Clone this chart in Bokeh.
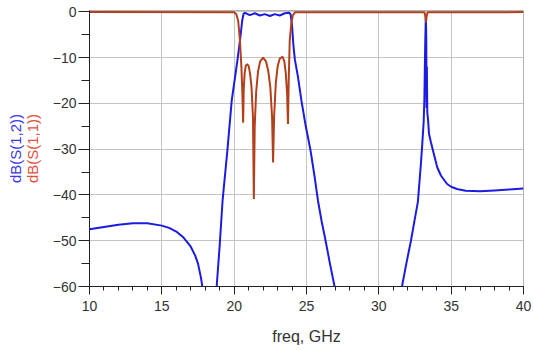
from bokeh.plotting import figure
from bokeh.models import Range1d, FixedTicker, LinearAxis
from bokeh.embed import file_html
from bokeh.resources import INLINE

# ---- data ----
freq_s21 = [10.0, 11.0, 12.0, 13.0, 14.0, 15.0, 15.5, 16.0, 16.5, 17.0, 17.3, 17.5, 17.7, 17.85,
            18.0, 18.3, 18.6, 18.79, 19.0, 19.2, 19.53, 19.83, 20.05, 20.25, 20.45, 20.55, 20.65,
            20.75, 21.08, 21.43, 21.78, 22.12, 22.47, 22.81, 23.15, 23.5, 23.8, 23.9,
            24.0, 24.1, 24.2, 24.4, 24.65, 24.95, 25.28, 25.55, 25.79, 26.05, 26.32, 26.62, 26.94, 27.2,
            28.0, 30.0, 31.3, 31.6, 31.9, 32.22, 32.5, 32.7, 32.9, 33.0, 33.1, 33.15, 33.2, 33.25,
            33.28, 33.3, 33.32, 33.35, 33.4, 33.47, 33.6, 33.8, 34.04, 34.3, 34.72, 35.0, 35.4,
            36.0, 37.0, 38.0, 39.0, 40.0]
s21_db = [-47.5, -47.0, -46.5, -46.2, -46.2, -46.7, -47.2, -48.0, -49.3, -51.3, -53.2, -55.0, -58.0, -61.0,
          -68.0, -80.0, -68.0, -60.0, -51.0, -41.2, -30.3, -19.4, -14.5, -10.0, -5.0, -2.0, -0.4,
          -0.2, -0.7, -0.3, -0.8, -0.5, -0.9, -0.5, -0.8, -0.3, -0.2, -0.5,
          -3.0, -7.5, -10.5, -14.0, -19.4, -25.0, -30.3, -35.8, -41.2, -45.8, -50.0, -55.0, -60.0, -65.0,
          -80.0, -85.0, -66.0, -60.0, -55.0, -50.0, -45.0, -41.5, -33.5, -29.0, -24.0, -19.0, -8.0, -0.8,
          -6.0, -21.0, -12.0, -22.0, -23.5, -26.7, -28.5, -31.0, -34.0, -35.8, -37.6, -38.2, -38.7,
          -39.1, -39.2, -39.0, -38.8, -38.6]

freq_s11 = [10.0, 20.0, 20.15, 20.28, 20.4, 20.5, 20.57, 20.62, 20.66, 20.72, 20.8, 20.9, 21.0, 21.1,
            21.2, 21.3, 21.36, 21.42, 21.52, 21.65, 21.8, 22.0, 22.2, 22.35, 22.5, 22.62, 22.69,
            22.76, 22.88, 23.0, 23.15, 23.34, 23.47, 23.57, 23.66, 23.72, 23.77, 23.84, 23.95,
            24.05, 24.2, 33.15, 33.22, 33.26, 33.3, 33.37, 40.0]
s11_db = [-0.05, -0.1, -0.5, -2.0, -6.3, -12.0, -18.0, -24.2, -17.0, -13.5, -11.8, -11.4, -11.8, -13.5,
          -16.5, -23.0, -40.9, -25.0, -17.5, -13.0, -10.8, -10.0, -10.8, -12.8, -16.5, -23.0, -32.9,
          -23.0, -15.5, -12.0, -10.2, -9.8, -10.8, -13.5, -18.0, -24.5, -15.0, -6.3, -2.5,
          -0.8, -0.1, -0.1, -1.0, -2.3, -1.0, -0.1, -0.05]

x_ticks = [10, 15, 20, 25, 30, 35, 40]
y_ticks = [0, -10, -20, -30, -40, -50, -60]
s21_label = "dB(S(1,2))"
s11_label = "dB(S(1,1))"
x_label = "freq, GHz"

BLUE = "#1c1ce0"
RED = "#b3401c"
FONT = "Liberation Sans"

p = figure(width=533, height=350, output_backend="svg", toolbar_location=None,
           x_range=Range1d(10, 40), y_range=Range1d(-60, 0.3),
           min_border_left=89, min_border_right=10, min_border_top=10, min_border_bottom=64)
p.outline_line_color = "#b4b4b4"
p.background_fill_color = "white"
p.border_fill_color = "white"

for ax in (p.xaxis[0], p.yaxis[0]):
    ax.axis_line_color = "#222222"
    ax.major_tick_line_color = "#222222"
    ax.minor_tick_line_color = "#222222"
    ax.major_label_text_font = FONT
    ax.major_label_text_font_size = "14px"
    ax.major_label_text_color = "#333333"
    ax.axis_label_text_font = FONT
    ax.axis_label_text_font_style = "normal"

p.xaxis.ticker = FixedTicker(ticks=x_ticks, minor_ticks=list(range(10, 41)))
p.yaxis.ticker = FixedTicker(ticks=y_ticks, minor_ticks=[-5 * i for i in range(13)])
p.xaxis.major_tick_in = 0
p.xaxis.major_tick_out = 8
p.xaxis.minor_tick_in = 0
p.xaxis.minor_tick_out = 4
p.xaxis.major_label_standoff = 6
p.xaxis.axis_label = x_label
p.xaxis.axis_label_text_font_size = "16px"
p.xaxis.axis_label_text_color = "#333333"
p.xaxis.axis_label_standoff = 14

p.yaxis.major_tick_in = 0
p.yaxis.major_tick_out = 11
p.yaxis.minor_tick_in = 0
p.yaxis.minor_tick_out = 8
p.yaxis.major_label_standoff = 2
p.yaxis.axis_label = s11_label
p.yaxis.axis_label_text_color = "#e0503c"
p.yaxis.axis_label_text_font_size = "15px"
p.yaxis.axis_label_standoff = 9

# outer (blue) part of the two-coloured vertical title
outer = LinearAxis(ticker=FixedTicker(ticks=[]), axis_label=s21_label,
                   axis_line_color=None, major_tick_line_color=None, minor_tick_line_color=None,
                   major_tick_out=0, minor_tick_out=0, major_label_text_font_size="0px",
                   axis_label_text_font=FONT, axis_label_text_font_style="normal",
                   axis_label_text_font_size="15px", axis_label_text_color="#3a3ae6",
                   axis_label_standoff=-3)
p.add_layout(outer, "left")

p.xgrid.ticker = FixedTicker(ticks=x_ticks)
p.ygrid.ticker = FixedTicker(ticks=y_ticks)
p.grid.grid_line_color = "#c4c4c4"
p.grid.grid_line_width = 1

p.line(freq_s21, s21_db, line_color=BLUE, line_width=2)
p.line(freq_s11, s11_db, line_color=RED, line_width=2)

open("out.html", "w").write(file_html(p, INLINE))
